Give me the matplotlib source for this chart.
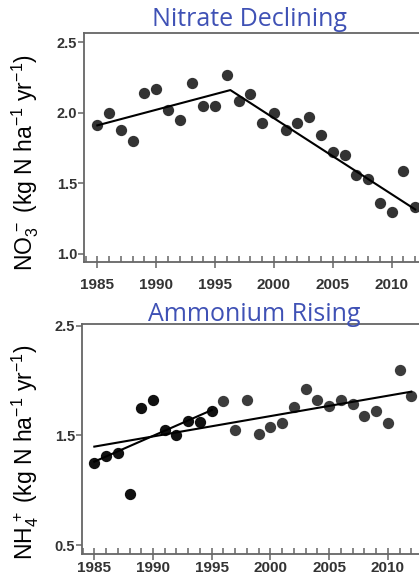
import matplotlib
matplotlib.use("Agg")
import matplotlib.pyplot as plt
from matplotlib.ticker import MultipleLocator

# years shared by both panels
years = list(range(1985, 2013))

# nitrate deposition (kg N/ha/yr)
no3 = [1.91, 2.00, 1.88, 1.80, 2.14, 2.17, 2.02, 1.95, 2.21, 2.05,
       2.05, 2.265, 2.08, 2.13, 1.93, 2.00, 1.88, 1.93, 1.97, 1.84,
       1.72, 1.70, 1.56, 1.53, 1.36, 1.30, 1.59, 1.33]
# piecewise fit for nitrate
no3_fit_x = [1985, 1996.3, 2012]
no3_fit_y = [1.91, 2.16, 1.315]

# ammonium deposition (kg N/ha/yr)
nh4 = [1.25, 1.31, 1.34, 0.965, 1.75, 1.82, 1.55, 1.50, 1.63, 1.62,
       1.725, 1.816, 1.55, 1.82, 1.51, 1.58, 1.616, 1.758, 1.92, 1.82,
       1.767, 1.82, 1.786, 1.68, 1.725, 1.61, 2.10, 1.86]
# early points drawn darker
nh4_early_n = 11
# fits for ammonium: short early trend and long trend
nh4_short_x = [1985, 1995]
nh4_short_y = [1.26, 1.73]
nh4_long_x = [1985, 2012]
nh4_long_y = [1.397, 1.898]

x_ticks = [1985, 1990, 1995, 2000, 2005, 2010]
no3_yticks = [1.0, 1.5, 2.0, 2.5]
nh4_yticks = [0.5, 1.5, 2.5]

plt.rcParams['mathtext.fontset'] = 'custom'
plt.rcParams['mathtext.rm'] = 'Liberation Sans'
plt.rcParams['mathtext.it'] = 'Liberation Sans'
plt.rcParams['mathtext.default'] = 'rm'

W, H = 419, 574
fig = plt.figure(figsize=(W / 100, H / 100), dpi=100)
fig.patch.set_facecolor('white')

TITLE_COL = '#3f51b5'
SPINE_COL = '#666666'
TICK_COL = '#333333'


def make_axes(left, top, right, bottom, xpad):
    # pixel box -> figure fractions
    ax = fig.add_axes([left / W, (H - bottom) / H, (right - left) / W, (bottom - top) / H])
    for s in ax.spines.values():
        s.set_color(SPINE_COL)
        s.set_linewidth(1.3)
    ax.xaxis.set_minor_locator(MultipleLocator(1))
    ax.tick_params(axis='x', which='major', direction='inout', length=8, width=1.1,
                   color=SPINE_COL, labelsize=11, labelcolor=TICK_COL, pad=xpad)
    ax.tick_params(axis='x', which='minor', direction='in', length=4, width=1.1,
                   color=SPINE_COL)
    ax.tick_params(axis='y', direction='out', length=4, width=1.1, color=SPINE_COL,
                   labelsize=10.5, labelcolor=TICK_COL, pad=1)
    return ax


def bold_labels(ax):
    for lab in ax.get_xticklabels() + ax.get_yticklabels():
        lab.set_fontweight('bold')
        lab.set_family('Liberation Sans')


# ---- top panel: nitrate ----
ax1 = make_axes(84, 33, 427, 262, 7.5)
ax1.set_xlim(1983.87, 2013.0)
ax1.set_ylim(0.943, 2.564)
ax1.set_yticks(no3_yticks)
ax1.set_yticklabels([f'{v:.1f}' for v in no3_yticks])
ax1.set_xticks(x_ticks)
ax1.set_xticklabels([str(v) for v in x_ticks])
ax1.scatter(years, no3, s=66, color='#333333', zorder=3, linewidths=0)
ax1.plot(no3_fit_x, no3_fit_y, color='black', lw=1.5, zorder=4)
bold_labels(ax1)

fig.text(250 / W, 1 - 26 / H, 'Nitrate Declining', color=TITLE_COL, fontsize=18,
         family='Open Sans', ha='center', va='baseline')
fig.text(25 / W, 1 - 163 / H, r'NO$_3^{\,-}$ (kg N ha$^{-1}$ yr$^{-1}$)', rotation=90,
         fontsize=16.5, family='Liberation Sans',
         ha='center', va='center', color='black')

# ---- bottom panel: ammonium ----
ax2 = make_axes(82, 324, 423, 554, 1.0)
ax2.set_xlim(1983.95, 2013.0)
ax2.set_ylim(0.418, 2.515)
ax2.set_yticks(nh4_yticks)
ax2.set_yticklabels([f'{v:.1f}' for v in nh4_yticks])
ax2.set_xticks(x_ticks)
ax2.set_xticklabels([str(v) for v in x_ticks])
ax2.scatter(years[nh4_early_n:], nh4[nh4_early_n:], s=66, color='#3c3c3c', zorder=3, linewidths=0)
ax2.scatter(years[:nh4_early_n], nh4[:nh4_early_n], s=66, color='#111111', zorder=3, linewidths=0)
ax2.plot(nh4_long_x, nh4_long_y, color='black', lw=1.5, zorder=4)
ax2.plot(nh4_short_x, nh4_short_y, color='black', lw=1.5, zorder=4)
bold_labels(ax2)

fig.text(254 / W, 1 - 321 / H, 'Ammonium Rising', color=TITLE_COL, fontsize=18,
         family='Open Sans', ha='center', va='baseline')
fig.text(25 / W, 1 - 452 / H, r'NH$_4^{\,+}$ (kg N ha$^{-1}$ yr$^{-1}$)', rotation=90,
         fontsize=16.5, family='Liberation Sans',
         ha='center', va='center', color='black')

fig.savefig('out.png', dpi=100, facecolor='white')
